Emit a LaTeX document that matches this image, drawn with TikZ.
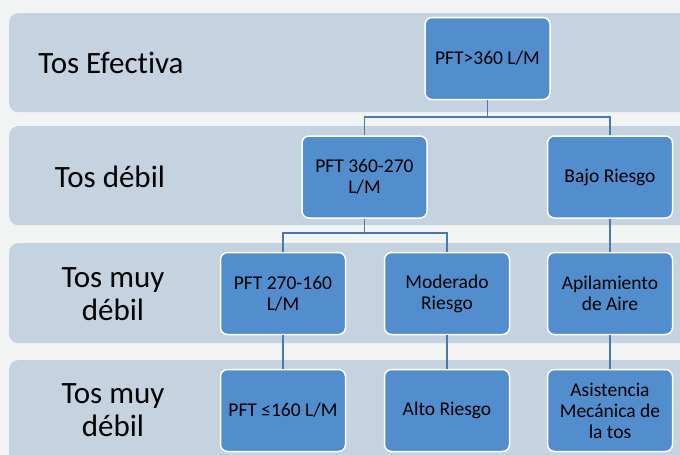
\documentclass[tikz,border=0pt]{standalone}
\usepackage{fontspec}
\setmainfont{Carlito}[Ligatures=NoCommon]
\usepackage{tikz}
\usetikzlibrary{positioning, calc}
\usepackage{xcolor}
\definecolor{bgcol}{HTML}{F2F4F4}
\definecolor{bandcol}{HTML}{C5D3E0}
\definecolor{boxcol}{HTML}{528DCD}
\definecolor{linecol}{HTML}{4A78A8}

\begin{document}
\begin{tikzpicture}[
    x=1pt, y=-1pt,
    levelband/.style = {rectangle, fill=bandcol, rounded corners=9pt, inner sep=0pt},
    levellabel/.style = {align=center, font=\fontsize{31}{33}\selectfont},
    stepbox/.style = {rectangle, draw=white, fill=boxcol, line width=1.5pt, rounded corners=7pt, align=center, font=\fontsize{19.5}{21}\selectfont, inner sep=3pt, minimum width=125pt, minimum height=82pt},
    link/.style = {draw=linecol, line width=1.2pt}
]
\useasboundingbox (0,0) rectangle (680,455);
\fill [bgcol] (0,0) rectangle (680,455);
\clip (0,0) rectangle (680,455);

% Level bands
\node (b_one) [levelband, minimum width=700pt, minimum height=99pt, anchor=north west] at (9,13) {};
\node (b_two) [levelband, minimum width=700pt, minimum height=99pt, anchor=north west] at (9,126) {};
\node (b_three) [levelband, minimum width=700pt, minimum height=100pt, anchor=north west] at (9,243) {};
\node (b_four) [levelband, minimum width=700pt, minimum height=120pt, anchor=north west] at (9,360) {};

% Level labels
\node (l_one) [levellabel] at (111,63) {Tos Efectiva};
\node (l_two) [levellabel] at (110,177) {Tos débil};
\node (l_three) [levellabel] at (113,294) {Tos muy\\débil};
\node (l_four) [levellabel] at (113,410) {Tos muy\\débil};

% Level 1
\node (c_top) [stepbox] at (487.5,58.5) {PFT>360 L/M};

% Level 2
\node (c_pft2) [stepbox] at (364.5,177) {PFT 360-270\\L/M};
\node (c_bajo) [stepbox] at (610,177) {Bajo Riesgo};

% Level 3
\node (c_pft3) [stepbox] at (283,293.5) {PFT 270-160\\L/M};
\node (c_mod) [stepbox] at (447,293.5) {Moderado\\Riesgo};
\node (c_apil) [stepbox] at (610,293.5) {Apilamiento\\de Aire};

% Level 4
\node (c_pft4) [stepbox] at (283,410.5) {PFT ≤160 L/M};
\node (c_alto) [stepbox] at (447,410.5) {Alto Riesgo};
\node (c_asist) [stepbox] at (610,410.5) {Asistencia\\Mecánica de\\la tos};

% Connections
\coordinate (j_one) at (487.5,117);
\coordinate (j_two) at (364.5,233);
\draw [link] (c_top) -- (j_one);
\draw [link] (c_pft2) |- (j_one) -| (c_bajo);
\draw [link] (c_pft2) -- (j_two);
\draw [link] (c_pft3) |- (j_two) -| (c_mod);
\draw [link] (c_bajo) -- (c_apil);
\draw [link] (c_pft3) -- (c_pft4);
\draw [link] (c_mod) -- (c_alto);
\draw [link] (c_apil) -- (c_asist);

\end{tikzpicture}
\end{document}
